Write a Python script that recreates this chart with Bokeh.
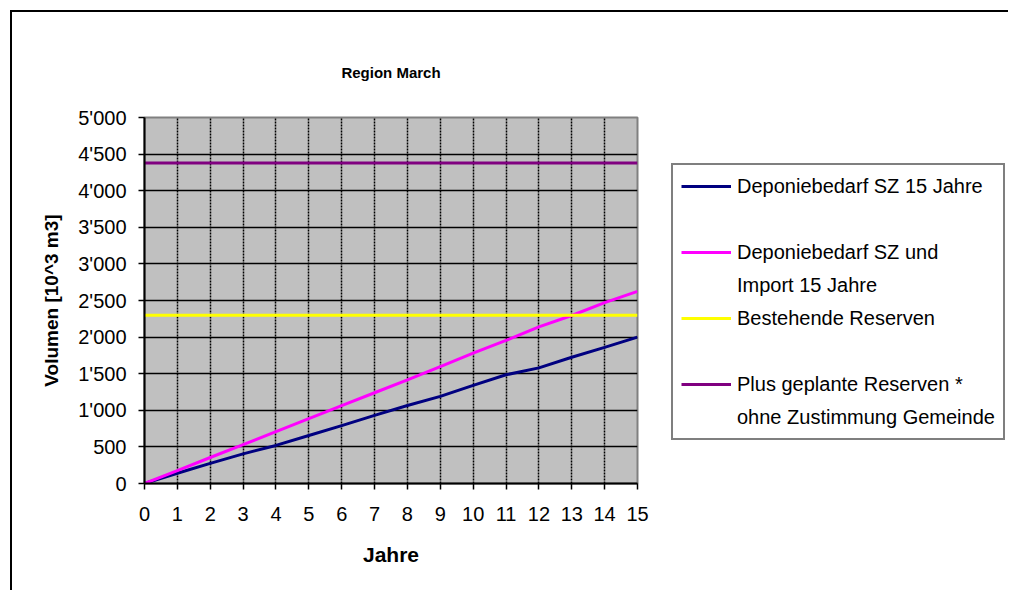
from bokeh.plotting import figure
from bokeh.layouts import row
from bokeh.models import Range1d, Legend, LegendItem, FixedTicker, Title
from bokeh.embed import file_html
from bokeh.resources import INLINE

# ---- data ----
years = [0, 1, 2, 3, 4, 5, 6, 7, 8, 9, 10, 11, 12, 13, 14, 15]
bedarf_sz = [0, 140, 275, 405, 520, 655, 790, 930, 1065, 1190, 1340, 1485, 1580, 1725, 1860, 2000]
bedarf_import = [0, 175, 355, 530, 710, 885, 1065, 1240, 1417, 1598, 1780, 1955, 2140, 2295, 2470, 2625]
reserven = [2300, 2300, 2300, 2300, 2300, 2300, 2300, 2300, 2300, 2300, 2300, 2300, 2300, 2300, 2300, 2300]
geplant = [4380, 4380, 4380, 4380, 4380, 4380, 4380, 4380, 4380, 4380, 4380, 4380, 4380, 4380, 4380, 4380]

# legend text, one list of lines per series
series_names = [
    ["Deponiebedarf SZ 15 Jahre"],
    ["Deponiebedarf SZ und", "Import 15 Jahre"],
    ["Bestehende Reserven"],
    ["Plus geplante Reserven *", "ohne Zustimmung Gemeinde"],
]
series_colors = ["#000080", "#FF00FF", "#FFFF00", "#800080"]

y_ticks = [0, 500, 1000, 1500, 2000, 2500, 3000, 3500, 4000, 4500, 5000]
y_tick_labels = ["0", "500", "1'000", "1'500", "2'000", "2'500", "3'000", "3'500", "4'000", "4'500", "5'000"]
x_ticks = years

title_text = "Region March"
x_label = "Jahre"
y_label = "Volumen [10^3 m3]"

FONT = "Liberation Sans"

# canvas starts at page (12, 12) because of the css margin + border
H = 580
FL, FT, FW, FH = 132, 105, 493, 366
FB = H - FT - FH
W1 = FL + FW + 20
W2 = 998 - W1

p = figure(width=W1, height=H, output_backend="svg", toolbar_location=None,
           x_range=Range1d(0, 15), y_range=Range1d(0, 5000),
           min_border_left=FL, min_border_top=FT,
           min_border_right=W1 - FL - FW, min_border_bottom=FB,
           background_fill_color="#C0C0C0", border_fill_color="white",
           title=None)
p.styles = {"margin-left": "10px", "margin-top": "10px",
            "border-left": "2px solid black", "border-top": "2px solid black"}

p.outline_line_color = "#808080"
p.outline_line_width = 2

# title (a blank spacer title lifts the real one)
p.add_layout(Title(text=" ", text_font_size="18px"), "above")
p.add_layout(Title(text=title_text, align="center", text_font=FONT,
                   text_font_size="15px", text_font_style="bold",
                   text_color="black"), "above")

# axes
for ax in (p.xaxis[0], p.yaxis[0]):
    ax.axis_line_color = "black"
    ax.axis_line_width = 2
    ax.major_tick_line_color = "black"
    ax.major_tick_line_width = 1.5
    ax.major_tick_out = 6
    ax.major_tick_in = 0
    ax.minor_tick_line_color = None
    ax.major_label_text_font = FONT
    ax.major_label_text_font_size = "20px"
    ax.major_label_text_color = "black"
    ax.axis_label_text_font = FONT
    ax.axis_label_text_font_style = "bold"
    ax.axis_label_text_color = "black"

p.xaxis.axis_label_text_font_size = "21px"
p.yaxis.axis_label_text_font_size = "19px"
p.xaxis.ticker = FixedTicker(ticks=x_ticks)
p.yaxis.ticker = FixedTicker(ticks=y_ticks)
p.yaxis.major_label_overrides = {t: l for t, l in zip(y_ticks, y_tick_labels)}
p.xaxis.axis_label = x_label
p.yaxis.axis_label = y_label
p.xaxis.major_label_standoff = 17
p.xaxis.axis_label_standoff = 19
p.yaxis.major_label_standoff = 12
p.yaxis.axis_label_standoff = 13

# grid
p.ygrid.grid_line_color = "black"
p.ygrid.grid_line_width = 1.5
p.xgrid.grid_line_color = "black"
p.xgrid.grid_line_width = 1.5
p.xgrid.grid_line_dash = "2 1"

# series
data = [bedarf_sz, bedarf_import, reserven, geplant]
for vals, col in zip(data, series_colors):
    p.line(years, vals, line_color=col, line_width=3)

# ---- legend panel (right of the plot, inside the same chart box) ----
q = figure(width=W2, height=H, output_backend="svg", toolbar_location=None,
           x_range=Range1d(-3, -2), y_range=Range1d(-3, -2),   # series lie outside this view
           x_axis_location=None, y_axis_location=None,
           min_border_left=0, min_border_right=0,
           min_border_top=FT, min_border_bottom=FB,
           background_fill_color="white", border_fill_color="white", title=None)
q.styles = {"margin-top": "10px", "border-top": "2px solid black"}
q.outline_line_color = None
q.grid.visible = False

items = []
blank = q.line(years, bedarf_sz, line_alpha=0)
for k, (lines, vals, col) in enumerate(zip(series_names, data, series_colors)):
    r = q.line(years, vals, line_color=col, line_width=3)
    items.append(LegendItem(label=lines[0], renderers=[r]))
    for extra in lines[1:]:
        items.append(LegendItem(label=extra, renderers=[blank]))
    if k in (0, 2):
        items.append(LegendItem(label=" ", renderers=[blank]))

ITEM_H, SP, PAD = 26, 7, 8
n_items = len(items)
leg_h = n_items * ITEM_H + (n_items - 1) * SP + 2 * PAD
LEG_X = 16                      # gap between panel start and legend box
LEG_TOP = 167 - 12              # legend box top in canvas pixels
legend = Legend(items=items, location=(LEG_X, FT + FH - (LEG_TOP + leg_h)))
legend.border_line_color = "black"
legend.border_line_width = 2
legend.background_fill_color = "white"
legend.background_fill_alpha = 1
legend.padding = PAD
legend.margin = 0
legend.glyph_width = 50
legend.glyph_height = ITEM_H
legend.label_standoff = 6
legend.label_height = ITEM_H
legend.spacing = SP
legend.label_text_font = FONT
legend.label_text_font_size = "20px"
legend.label_text_color = "black"
q.add_layout(legend, "center")

layout = row(p, q)
open("out.html", "w").write(file_html(layout, INLINE))
